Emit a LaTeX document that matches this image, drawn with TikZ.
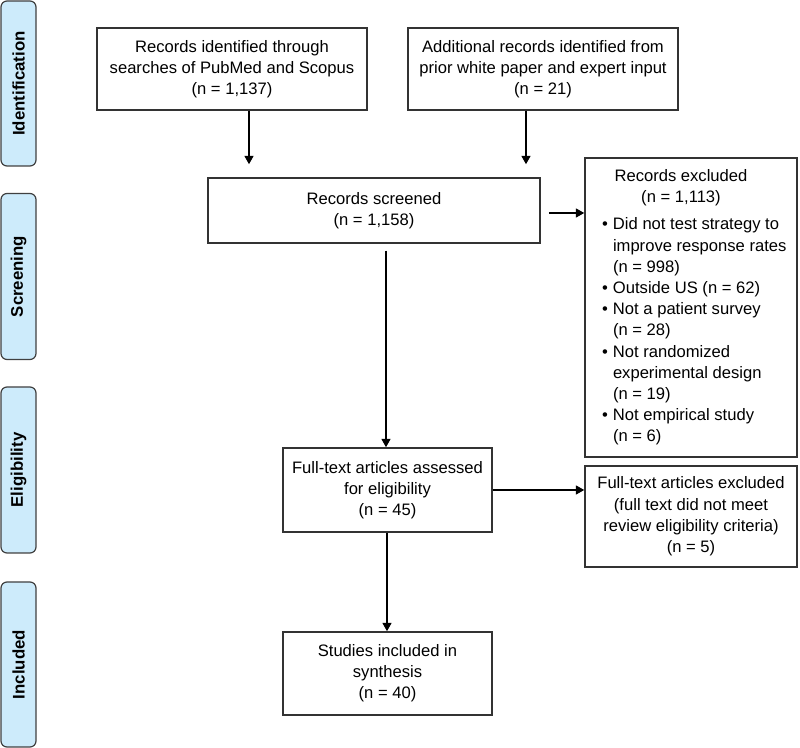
\documentclass[tikz,border=0pt]{standalone}
\usepackage{fontspec}
\setmainfont{Liberation Sans}
\usetikzlibrary{arrows.meta}
\definecolor{barfill}{HTML}{CDEBFB}
\definecolor{barline}{HTML}{404040}
\definecolor{edge}{HTML}{333333}
\newcommand\bitem[1]{\par\hangindent=5.5pt\hangafter=1\noindent\makebox[5.5pt][l]{\textbullet}#1\par}
\begin{document}
\begin{tikzpicture}[x=0.5pt,y=-0.5pt,
  box/.style={draw=edge, line width=0.75pt, fill=white, align=center, inner sep=0pt,
    font=\fontsize{8.3}{10.6}\selectfont},
  phase/.style={draw=barline, fill=barfill, rounded corners=3pt, line width=0.6pt,
    rotate=90, font=\fontsize{8.4}{10}\selectfont\bfseries, minimum height=17.5pt, inner sep=0pt},
  arr/.style={-{Triangle[length=4.2pt,width=4.5pt]}, line width=0.75pt, draw=black}]
\useasboundingbox (0,0) rectangle (800,748);

% phase bars
\node[phase, minimum width=82.5pt] (p1) at (18.5,83.5) {Identification};
\node[phase, minimum width=83pt] (p2) at (18.5,276.5) {Screening};
\node[phase, minimum width=83pt] (p3) at (18.5,470) {Eligibility};
\node[phase, minimum width=82.5pt] (p4) at (18.5,664.5) {Included};

% boxes
\node[box, minimum width=135pt, minimum height=41pt] (a) at (232,69)
  {Records identified through\\searches of PubMed and Scopus\\(n = 1,137)};
\node[box, minimum width=135pt, minimum height=41pt] (b) at (543,69)
  {Additional records identified from\\prior white paper and expert input\\(n = 21)};
\node[box, minimum width=166pt, minimum height=32.5pt] (s) at (374,210.5)
  {Records screened\\(n = 1,158)};
\node[box, minimum width=106pt, minimum height=149.5pt] (e) at (691,307.5)
  {\hspace*{5pt}\begin{minipage}{94pt}\setlength\parskip{0pt}\raggedright
   \makebox[\linewidth]{Records excluded\hspace{15pt}}\\
   \makebox[\linewidth]{(n = 1,113)\hspace{15pt}}\par
   \vspace{3pt}%
   \bitem{Did not test strategy to\newline improve response rates\newline (n = 998)}%
   \bitem{Outside US (n = 62)}%
   \bitem{Not a patient survey\newline (n = 28)}%
   \bitem{Not randomized\newline experimental design\newline (n = 19)}%
   \bitem{Not empirical study\newline (n = 6)}%
   \end{minipage}};
\node[box, minimum width=104.5pt, minimum height=42pt] (f) at (387.5,490)
  {Full-text articles assessed\\for eligibility\\(n = 45)};
\node[box, minimum width=106pt, minimum height=50.5pt] (x) at (691,516.5)
  {Full-text articles excluded\\(full text did not meet\\review eligibility criteria)\\(n = 5)};
\node[box, minimum width=104.5pt, minimum height=41.5pt] (t) at (387.5,673.5)
  {Studies included in\\synthesis\\(n = 40)};

% connectors
\draw[arr, shorten >=6.5pt] (249,0 |- a.south) -- (249,0 |- s.north);
\draw[arr, shorten >=6.5pt] (526,0 |- b.south) -- (526,0 |- s.north);
\draw[arr, shorten <=4pt] (s.east |- 0,213) -- (e.west |- 0,213);
\draw[arr, shorten <=3.5pt] (386,0 |- s.south) -- (386,0 |- f.north);
\draw[arr] (f.east) -- (x.west |- f.east);
\draw[arr] (387,0 |- f.south) -- (387,0 |- t.north);
\end{tikzpicture}
\end{document}
